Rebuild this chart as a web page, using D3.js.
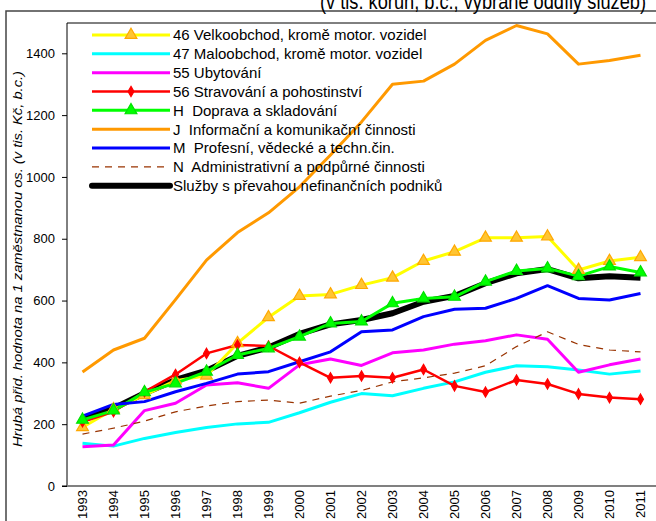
<!DOCTYPE html>
<html>
<head>
<meta charset="utf-8">
<script src="https://cdn.jsdelivr.net/npm/d3@7"></script>
<style>
  body { margin: 0; background: #fff; }
  svg { display: block; font-family: "Liberation Sans", Arial, sans-serif; }
</style>
</head>
<body>
<div id="chart"></div>
<script>
const WIDTH = 656;
const HEIGHT = 521;

// categories
const years = ["1993","1994","1995","1996","1997","1998","1999","2000","2001","2002",
  "2003","2004","2005","2006","2007","2008","2009","2010","2011"];
const yTicks = [0, 200, 400, 600, 800, 1000, 1200, 1400];

// series values (tis. Kč)
const velkoobchod = [190,248,294,341,357,462,546,615,620,650,674,728,758,803,803,807,699,728,740];
const maloobchod  = [138,129,154,173,189,201,206,237,271,299,292,316,337,368,389,386,375,362,372];
const ubytovani   = [127,133,244,268,327,334,316,392,411,390,431,440,459,470,489,475,368,392,411];
const stravovani  = [208,240,305,361,429,456,453,400,350,356,350,377,324,304,343,330,298,286,281];
const doprava     = [214,244,303,332,370,424,445,483,526,532,591,607,612,661,696,704,679,710,691];
const informacni  = [369,440,478,603,731,820,884,968,1071,1178,1300,1310,1365,1442,1490,1463,1365,1377,1394];
const profesni    = [226,264,273,305,332,362,370,402,434,499,505,548,572,575,607,648,607,602,623];
const administr   = [168,187,210,240,259,273,278,268,291,309,337,350,365,389,451,499,458,440,434];
const sluzby      = [214,251,300,343,373,421,448,492,523,537,559,596,615,656,688,702,672,679,674];

const titleText = "(v tis. korun, b.c., vybrané oddíly služeb)";
const yAxisLabel = "Hrubá přid. hodnota na 1 zaměstnanou os. (v tis. Kč, b.c.)";

// series in legend order
const series = [
  {name: "46 Velkoobchod, kromě motor. vozidel", values: velkoobchod, color: "#ffff00", width: 3, marker: "triangle", mFill: "#ffc533", mStroke: "#ffa800"},
  {name: "47 Maloobchod, kromě motor. vozidel", values: maloobchod, color: "#00ffff", width: 3},
  {name: "55 Ubytování", values: ubytovani, color: "#ff00ff", width: 3},
  {name: "56 Stravování a pohostinství", values: stravovani, color: "#ff0000", width: 2.5, marker: "diamond", mFill: "#ff0000", mStroke: "#ff0000"},
  {name: "H  Doprava a skladování", values: doprava, color: "#00ff00", width: 3, marker: "triangle", mFill: "#00ff00", mStroke: "#00e000"},
  {name: "J  Informační a komunikační činnosti", values: informacni, color: "#ff9900", width: 3},
  {name: "M  Profesní, vědecké a techn.čin.", values: profesni, color: "#0000ff", width: 3},
  {name: "N  Administrativní a podpůrné činnosti", values: administr, color: "#993300", width: 1.2, dash: "7,6"},
  {name: "Služby s převahou nefinančních podniků", values: sluzby, color: "#000000", width: 6}
];

const plot = {left: 67, right: 656, top: 22.4, bottom: 486};

const svg = d3.select("#chart").append("svg")
    .attr("width", WIDTH)
    .attr("height", HEIGHT);

// scales
const xScale = d3.scaleBand().domain(years).range([plot.left, plot.right]);
const xMid = function(d, i) { return xScale(years[i]) + xScale.bandwidth() / 2; };
const yScale = d3.scaleLinear().domain([0, 1500]).range([plot.bottom, plot.top]);

// outer chart frame
svg.append("path")
    .attr("d", `M6,${HEIGHT} V11 H${WIDTH}`)
    .attr("fill", "none")
    .attr("stroke", "#444")
    .attr("stroke-width", 1.5);

// title (cut off at top, as in the reference)
svg.append("text")
    .attr("x", 320)
    .attr("y", 8.5)
    .attr("font-size", 22)
    .attr("textLength", 326)
    .attr("lengthAdjust", "spacingAndGlyphs")
    .text(titleText);

// plot area top border
svg.append("line")
    .attr("x1", plot.left).attr("x2", WIDTH)
    .attr("y1", 23).attr("y2", 23)
    .attr("stroke", "#000").attr("stroke-width", 1);

// y axis
const yAxis = d3.axisLeft(yScale)
    .tickValues(yTicks)
    .tickFormat(d3.format("d"))
    .tickSize(5)
    .tickPadding(7);
const yG = svg.append("g")
    .attr("transform", `translate(${plot.left},0)`)
    .call(yAxis);
yG.select(".domain").attr("d", `M-5,${plot.bottom}H0V23`).attr("stroke", "#000");
yG.selectAll("text").attr("font-size", 13).attr("font-family", null).attr("fill", "#000");

// y axis label
svg.append("text")
    .attr("transform", "translate(22,447) rotate(-90)")
    .attr("font-size", 12)
    .attr("font-style", "italic")
    .attr("textLength", 376)
    .attr("lengthAdjust", "spacingAndGlyphs")
    .text(yAxisLabel);

// x axis line
svg.append("line")
    .attr("x1", plot.left).attr("x2", WIDTH)
    .attr("y1", plot.bottom).attr("y2", plot.bottom)
    .attr("stroke", "#808080").attr("stroke-width", 2);

// x labels, rotated
svg.append("g").selectAll("text")
    .data(years)
  .enter().append("text")
    .attr("transform", (d, i) => `translate(${xMid(d, i) + 4.5},490) rotate(-90)`)
    .attr("text-anchor", "end")
    .attr("font-size", 13)
    .text(d => d);

// lines
const line = d3.line()
    .x(xMid)
    .y(d => yScale(d));

const drawOrder = [8, 0, 1, 2, 3, 4, 5, 6, 7];
const linesG = svg.append("g");
drawOrder.forEach(function(k) {
  const s = series[k];
  linesG.append("path")
      .datum(s.values)
      .attr("fill", "none")
      .attr("stroke", s.color)
      .attr("stroke-width", s.width)
      .attr("stroke-dasharray", s.dash || null)
      .attr("stroke-linejoin", "round")
      .attr("d", line);
});

// markers
function symbolFor(kind) {
  return kind === "triangle"
    ? d3.symbol(d3.symbolTriangle, 60)
    : d3.symbol(d3.symbolDiamond, 30);
}
series.filter(s => s.marker).forEach(function(s) {
  svg.append("g").selectAll("path")
      .data(s.values)
    .enter().append("path")
      .attr("transform", (d, i) => `translate(${xMid(d, i)},${yScale(d)})`)
      .attr("d", symbolFor(s.marker))
      .attr("fill", s.mFill)
      .attr("stroke", s.mStroke)
      .attr("stroke-width", 1.2);
});

// legend (no box, transparent)
const legend = svg.append("g");
const legY = d3.scaleLinear().domain([0, 8]).range([35, 185.7]);
series.forEach(function(s, i) {
  const y = legY(i);
  legend.append("line")
      .attr("x1", 92).attr("x2", 170)
      .attr("y1", y).attr("y2", y)
      .attr("stroke", s.color)
      .attr("stroke-width", s.width)
      .attr("stroke-dasharray", s.dash || null)
      .attr("stroke-linecap", s.width > 4 ? "round" : "butt");
  if (s.marker) {
    legend.append("path")
        .attr("transform", `translate(131,${y})`)
        .attr("d", symbolFor(s.marker))
        .attr("fill", s.mFill)
        .attr("stroke", s.mStroke)
        .attr("stroke-width", 1.2);
  }
  legend.append("text")
      .attr("x", 173)
      .attr("y", y)
      .attr("dy", "0.36em")
      .attr("font-size", 15)
      .style("white-space", "pre")
      .text(s.name);
});
</script>
</body>
</html>
